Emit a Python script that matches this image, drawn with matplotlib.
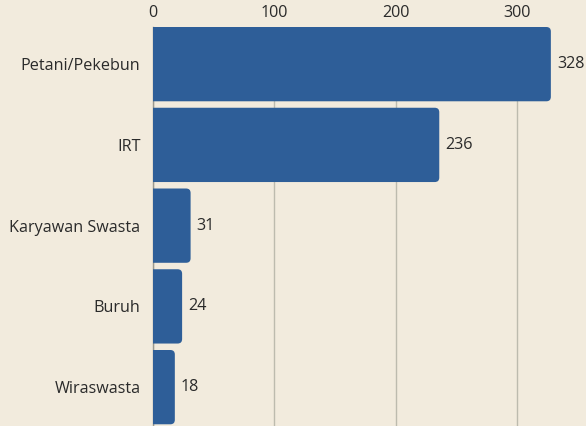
import matplotlib
matplotlib.use("Agg")
import matplotlib.pyplot as plt
from matplotlib.patches import FancyBboxPatch

categories = ["Petani/Pekebun", "IRT", "Karyawan Swasta", "Buruh", "Wiraswasta"]
values = [328, 236, 31, 24, 18]
ticks = [0, 100, 200, 300]

bg = "#f2ebdd"
bar_color = "#2e5e98"
text_color = "#2a2a2a"

plt.rcParams['font.family'] = ['Open Sans', 'DejaVu Sans']
fs = 11.6

W, H = 586, 426
fig = plt.figure(figsize=(W / 100, H / 100), dpi=100, facecolor=bg)
left_px, right_px, top_px, bot_px = 153, 586, 27, 426
ax = fig.add_axes([left_px / W, 1 - bot_px / H, (right_px - left_px) / W, (bot_px - top_px) / H])
ax.set_facecolor(bg)

xs = 1.213  # px per unit x
ys = 80.75  # px per unit y
xmax = (right_px - left_px) / xs
ax.set_xlim(0, xmax)
bar_h = 0.92
ytop = -bar_h / 2
ybot = ytop + (bot_px - top_px) / ys
ax.set_ylim(ybot, ytop)

r_px = 4.5
r = r_px / xs
aspect = (1 / ys) / (1 / xs)
for i, (c, v) in enumerate(zip(categories, values)):
    # start left of the axis so the left corners are hidden (square at axis)
    p = FancyBboxPatch((-2 * r, i - bar_h / 2), v + 2 * r, bar_h,
                       boxstyle=f"round,pad=0,rounding_size={r}",
                       mutation_aspect=aspect,
                       facecolor=bar_color, edgecolor="none", zorder=3,
                       clip_on=True)
    ax.add_patch(p)
    ax.text(v + 6 / xs, i, str(v), va="center", ha="left", fontsize=fs,
            color=text_color, zorder=4)

ax.set_yticks(range(len(categories)))
ax.set_yticklabels(categories, fontsize=fs, color=text_color)
ax.set_xticks(ticks)
ax.set_xticklabels([str(t) for t in ticks], fontsize=fs, color=text_color)
ax.xaxis.tick_top()
ax.tick_params(axis="both", length=0)
ax.tick_params(axis="x", pad=4)
ax.tick_params(axis="y", pad=9)
ax.grid(axis="x", color="#bdbbae", linewidth=1, zorder=0)
for s in ["top", "right", "bottom"]:
    ax.spines[s].set_visible(False)
ax.spines["left"].set_color("#9a998f")
ax.spines["left"].set_linewidth(1)
ax.spines["left"].set_zorder(2)

fig.savefig("out.png", dpi=100, facecolor=bg)
